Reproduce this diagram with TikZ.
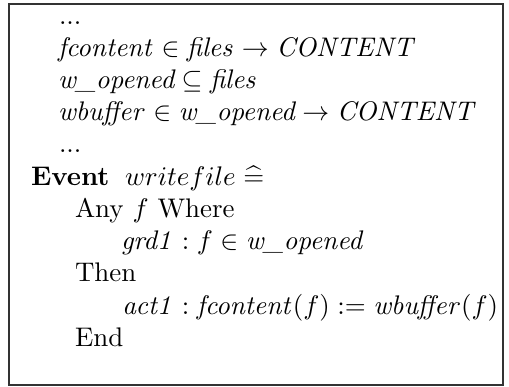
\documentclass[tikz,border=0pt]{standalone}
\usepackage{amsmath,amssymb}
\begin{document}
\begin{tikzpicture}[x=0.3717pt,y=-0.3717pt,
  line/.style={anchor=base west,inner sep=0pt,outer sep=0pt},
  frame/.style={draw=black!80,line width=0.4pt}]
\useasboundingbox (0,0) rectangle (509,387);
\draw[frame] (9,4) rectangle (503,385);
% declarations
\node[line] (d1) at (59,25) {...};
\node[line] (l1) at (58,57) {$\mathit{fcontent} \in \mathit{files} \rightarrow \mathit{CONTENT}$};
\node[line] (l2) at (58,89) {$\textit{w\_opened} \subseteq \mathit{files}$};
\node[line] (l3) at (58,121) {$\mathit{wbuffer} \in \textit{w\_opened} \rightarrow \mathit{CONTENT}$};
\node[line] (d2) at (59,153) {...};
% the event
\node[line] (ev) at (31,186) {\textbf{Event}};
\node[line] (evname) at (125,186) {$writefile \mathrel{\widehat{=}}$};
\node[line] (any) at (75,218) {Any $f$ Where};
\node[line] (grd) at (121,250) {$\mathit{grd1} : f \in \textit{w\_opened}$};
\node[line] (then) at (75,282) {Then};
\node[line] (act) at (122,314) {$\mathit{act1} : \mathit{fcontent}(f) := \mathit{wbuffer}(f)$};
\node[line] (end) at (75,346) {End};
\end{tikzpicture}
\end{document}
